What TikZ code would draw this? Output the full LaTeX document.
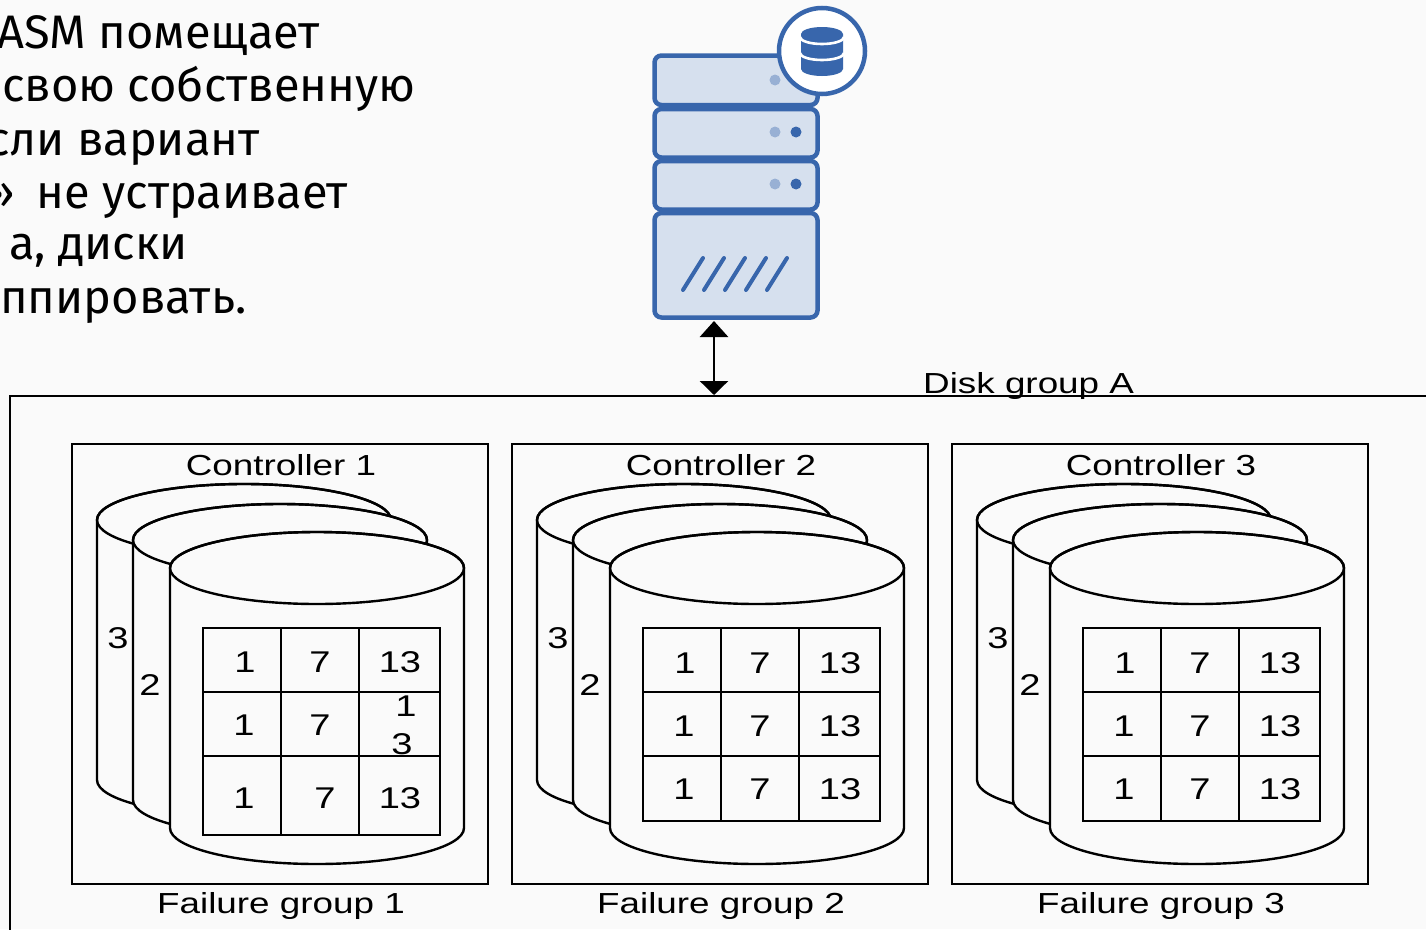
\documentclass[tikz,border=0pt]{standalone}
\usepackage{fontspec}
\setmainfont{Liberation Sans}
\newfontfamily\rufont{Fira Sans}
\usetikzlibrary{arrows.meta}
\definecolor{bgc}{RGB}{250,250,250}
\definecolor{srvblue}{RGB}{56,102,172}
\definecolor{srvfill}{RGB}{214,224,238}
\definecolor{srvdot}{RGB}{152,176,212}

% stretched sans labels
\newcommand{\wlab}[1]{\scalebox{1.27}[1]{#1}}

% one disk cylinder: centre of top ellipse
\newcommand{\diskcyl}[2]{%
  \path[cyl, fill=bgc] (#1-147,#2) -- (#1-147,#2+260)
    arc[start angle=180, end angle=0, x radius=147, y radius=36]
    -- (#1+147,#2)
    arc[start angle=0, end angle=-180, x radius=147, y radius=36] -- cycle;
  \draw[cyl] (#1,#2) ellipse[x radius=147, y radius=36];}

\begin{document}
\begin{tikzpicture}[x=1pt, y=-1pt,
  ctrlbox/.style={draw, line width=2.8pt, minimum width=416pt, minimum height=440pt, inner sep=0pt, outer sep=0pt},
  cyl/.style={draw, line width=2.4pt},
  gridln/.style={line width=2.9pt},
  lab/.style={font=\fontsize{29}{34}\selectfont, inner sep=0pt, anchor=base},
  dig/.style={font=\fontsize{30}{34}\selectfont, inner sep=0pt, anchor=base},
  rutext/.style={font=\rufont\fontsize{47}{53}\selectfont, inner sep=0pt, anchor=base west, text=black},
  srvunit/.style={draw=srvblue, fill=srvfill, line width=4.5pt, rounded corners=7pt},
  link/.style={line width=2.8pt, {Triangle[length=16pt, width=28pt]}-{Triangle[length=14pt, width=28pt]}}]
\useasboundingbox (0,0) rectangle (1426,929);
\fill[bgc] (0,0) rectangle (1426,929);
\begin{scope}
\clip (0,0) rectangle (1426,929);

% text block on the left
\node[rutext] (t1) at (-3,48)  {ASM помещает};
\node[rutext] (t2) at (2,101)  {свою собственную};
\node[rutext] (t3) at (-13,155) {сли вариант};
\node[rutext] (t4) at (-12,208) {»\kern22pt не устраивает};
\node[rutext] (t5) at (9,259) {а, диски};
\node[rutext] (t6) at (0,313)  {ппировать.};

% server
\draw[srvunit] (654.5,55.5) rectangle (817.5,105);
\draw[srvunit] (654.5,109) rectangle (817.5,157.5);
\draw[srvunit] (654.5,161) rectangle (817.5,209.5);
\draw[srvunit] (654.5,213) rectangle (817.5,317.5);
\fill[srvdot] (775,80) circle[radius=5.5];
\fill[srvdot] (775,132) circle[radius=5.5];
\fill[srvblue] (796,132) circle[radius=5.5];
\fill[srvdot] (775,184) circle[radius=5.5];
\fill[srvblue] (796,184) circle[radius=5.5];
\foreach \i in {0,...,4}
  \draw[srvblue, line width=4pt, line cap=round] (683+21*\i,290) -- (703+21*\i,258);
% database badge
\draw[srvblue, fill=white, line width=4.5pt] (822,51) circle[radius=43];
\fill[srvblue] (801,34) -- (801,69)
  arc[start angle=180, end angle=0, x radius=21, y radius=7]
  -- (843,34) arc[start angle=0, end angle=-180, x radius=21, y radius=7] -- cycle;
\draw[white, line width=2.6pt] (800,37) arc[start angle=180, end angle=0, x radius=22, y radius=7];
\draw[white, line width=2.6pt] (800,53) arc[start angle=180, end angle=0, x radius=22, y radius=7];

\coordinate (srv) at (714,321);
\coordinate (dg) at (714,395);

% disk group frame
\draw[line width=2.3pt] (10,396) rectangle (1460,960);
\node[lab, anchor=base west] (dglab) at (923,393) {\wlab{Disk group A}};
\draw[link] (srv) -- (dg);

% controllers, failure groups, disks
\foreach \k/\dx/\gb/\ra/\rb/\rc in {1/0/835/661/724/797, 2/440/821/662/725/788, 3/880/821/662/725/788} {
  \node[ctrlbox] (box\k) at (280+\dx,664) {};
  \node[lab] (ctl\k) at (281+\dx,475) {\wlab{Controller \k}};
  \node[lab] (fg\k) at (281+\dx,913) {\wlab{Failure group \k}};
  \diskcyl{244+\dx}{520}
  \diskcyl{280+\dx}{540}
  \diskcyl{317+\dx}{568}
  \node[dig] (c3-\k) at (118+\dx,648) {\wlab{3}};
  \node[dig] (c2-\k) at (150+\dx,695) {\wlab{2}};
  \draw[gridln] (203+\dx,628) rectangle (440+\dx,\gb);
  \draw[gridln] (281+\dx,628) -- (281+\dx,\gb);
  \draw[gridln] (359+\dx,628) -- (359+\dx,\gb);
  \draw[gridln] (203+\dx,692) -- (440+\dx,692);
  \draw[gridln] (203+\dx,756) -- (440+\dx,756);
  \node[dig] (a1-\k) at (245+\dx,\ra+11) {\wlab{1}};
  \node[dig] (b1-\k) at (320+\dx,\ra+11) {\wlab{7}};
  \node[dig] (d1-\k) at (400+\dx,\ra+11) {\wlab{13}};
  \node[dig] (a2-\k) at (244+\dx,\rb+11) {\wlab{1}};
  \node[dig] (b2-\k) at (320+\dx,\rb+11) {\wlab{7}};
  \node[dig] (a3-\k) at (244+\dx,\rc+11) {\wlab{1}};
}
% last cells
\node[dig] (d2-1a) at (406,716) {\wlab{1}};
\node[dig] (d2-1b) at (402,754) {\wlab{3}};
\node[dig] (b3-1) at (325,808) {\wlab{7}};
\node[dig] (d3-1) at (400,808) {\wlab{13}};
\foreach \k/\dx in {2/440, 3/880} {
  \node[dig] (d2-\k) at (400+\dx,736) {\wlab{13}};
  \node[dig] (b3-\k) at (320+\dx,799) {\wlab{7}};
  \node[dig] (d3-\k) at (400+\dx,799) {\wlab{13}};
}
\end{scope}
\end{tikzpicture}
\end{document}
